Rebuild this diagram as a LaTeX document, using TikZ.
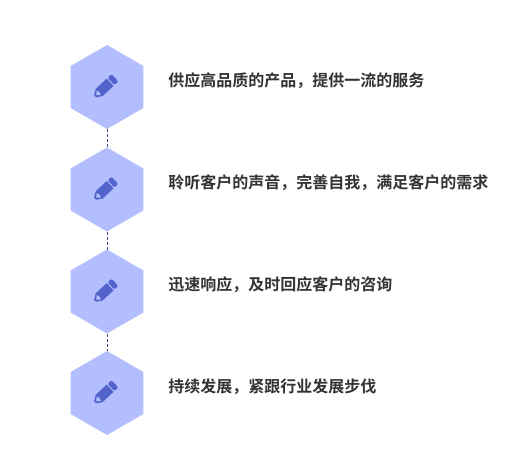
\documentclass[tikz,border=0pt]{standalone}
\usepackage{fontspec}
\setmainfont{Noto Sans CJK SC}[BoldFont={Noto Sans CJK SC Bold}]
\usetikzlibrary{shapes.geometric}
\definecolor{hexblue}{HTML}{B3BEFF}
\definecolor{iconblue}{HTML}{5263CC}
\definecolor{linkblue}{HTML}{3F4A85}
\definecolor{labelgray}{HTML}{333333}
\tikzset{
  hexbox/.style={regular polygon, regular polygon sides=6, shape border rotate=30, minimum size=63pt, inner sep=0pt, outer sep=0pt, fill=hexblue},
  itemtext/.style={anchor=west, inner sep=0pt, text=labelgray, font=\fontsize{12pt}{14pt}\selectfont\bfseries},
  hexlink/.style={draw=linkblue, dashed, dash pattern=on 2.25pt off 1.5pt, line width=0.75pt}
}
\newcommand{\pencilicon}[1]{
  \begin{scope}[shift={(#1)}, xshift=-1.5pt, rotate=43, x=0.75pt, y=0.75pt]
    \fill[iconblue] (-13.5,-1.5) -- (-13.5,1.5) -- (-8,5) -- (7,5) -- (7,-5) -- (-8,-5) -- cycle;
    \fill[iconblue, rounded corners=1pt] (8.2,-5) rectangle (13.5,5);
    \fill[hexblue] (-12,0) -- (-8.5,-3) -- (-7.5,0) -- (-8.5,3) -- cycle;
  \end{scope}
}
\begin{document}
\begin{tikzpicture}[x=0.75pt, y=-0.75pt]
\useasboundingbox (0,0) rectangle (510,453);
\node[hexbox] (hex1) at (107,87) {};
\node[hexbox] (hex2) at (107,189.5) {};
\node[hexbox] (hex3) at (107,291.5) {};
\node[hexbox] (hex4) at (107,393) {};
\draw[hexlink] (hex1.south) -- (hex2.north);
\draw[hexlink] (hex2.south) -- (hex3.north);
\draw[hexlink] (hex3.south) -- (hex4.north);
\pencilicon{hex1}
\pencilicon{hex2}
\pencilicon{hex3}
\pencilicon{hex4}
\node[itemtext] (text1) at (168,80.8) {供应高品质的产品，提供一流的服务};
\node[itemtext] (text2) at (168,182.8) {聆听客户的声音，完善自我，满足客户的需求};
\node[itemtext] (text3) at (168,284.8) {迅速响应，及时回应客户的咨询};
\node[itemtext] (text4) at (168,386.8) {持续发展，紧跟行业发展步伐};
\end{tikzpicture}
\end{document}
